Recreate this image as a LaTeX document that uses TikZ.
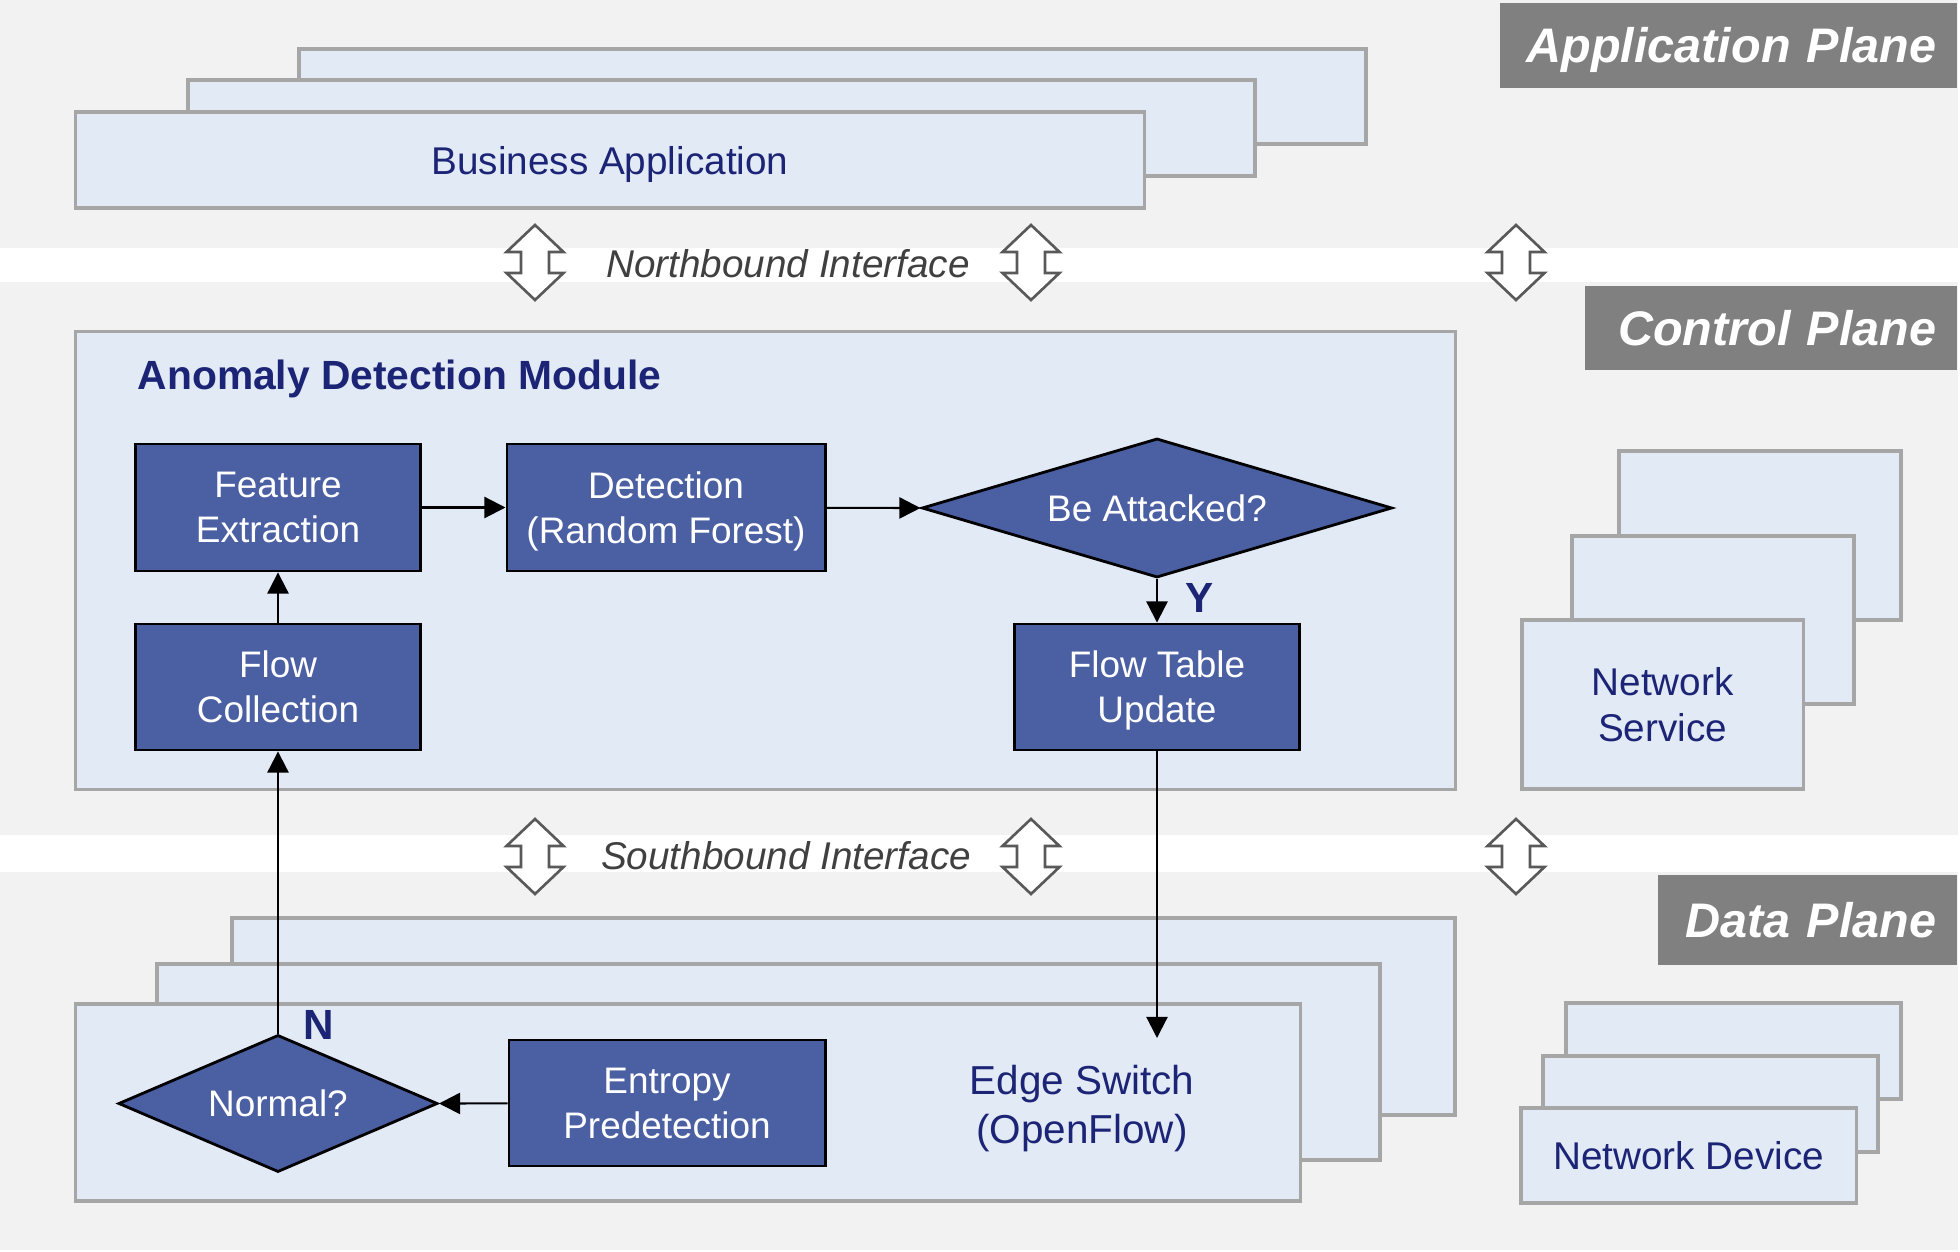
\documentclass[tikz,border=0pt]{standalone}
\usepackage{fontspec}
\setmainfont{Liberation Sans}
\usepackage{tikz}
\usetikzlibrary{shapes.geometric,arrows.meta}

\definecolor{bandgray}{RGB}{242,242,242}
\definecolor{paleblue}{RGB}{226,234,246}
\definecolor{edgegray}{RGB}{166,166,166}
\definecolor{stepblue}{RGB}{75,95,163}
\definecolor{navy}{RGB}{28,36,118}
\definecolor{tabgray}{RGB}{128,128,128}
\definecolor{ifgray}{RGB}{64,64,64}
\definecolor{arrgray}{RGB}{89,89,89}

\tikzset{
  layer/.style={draw=edgegray, fill=paleblue, line width=0.9pt, inner sep=0pt},
  layertext/.style={text=navy, align=center, text depth=0pt, font=\fontsize{11}{13.2}\selectfont},
  stepbox/.style={draw=black, fill=stepblue, line width=0.8pt, text=white, align=center,
    inner sep=0pt, text depth=0pt, font=\fontsize{10.5}{12.8}\selectfont},
  decision/.style={diamond, draw=black, fill=stepblue, line width=0.8pt, text=white,
    inner sep=0pt, font=\fontsize{10.5}{12.8}\selectfont},
  planetag/.style={fill=tabgray, text=white, inner xsep=0.21cm, inner ysep=0pt,
    anchor=north east, align=right, text depth=0pt,
    font=\fontsize{13.8}{16}\selectfont\bfseries\itshape},
  iface/.style={text=ifgray, font=\fontsize{11}{13}\selectfont\itshape},
  answer/.style={text=navy, inner sep=0pt, font=\fontsize{12}{14}\selectfont\bfseries},
  flow/.style={-{Triangle[length=6pt,width=6pt]}, line width=0.6pt},
  updown/.pic={
    \draw[arrgray, fill=white, line width=0.75pt]
      (0,-37.5) -- (28.5,-10.5) -- (14,-10.5) -- (14,10.5) -- (28.5,10.5) -- (0,37.5)
      -- (-28.5,10.5) -- (-14,10.5) -- (-14,-10.5) -- (-28.5,-10.5) -- cycle;
  }
}

\begin{document}
\begin{tikzpicture}[x=0.01cm, y=-0.01cm]
\useasboundingbox (0,0) rectangle (1960,1252);

% the three planes
\fill[bandgray] (0,0) rectangle (1958,248);
\fill[bandgray] (0,282) rectangle (1958,835);
\fill[bandgray] (0,872) rectangle (1958,1250);

\node[planetag, text width=4.15cm, minimum height=0.85cm] (apptag) at (1958,2) {Application Plane};
\node[planetag, text width=3.30cm, minimum height=0.84cm] (ctrltag) at (1958,285) {Control Plane};
\node[planetag, text width=2.57cm, minimum height=0.90cm] (datatag) at (1958,874) {Data Plane};

% application plane
\draw[layer] (299,49) rectangle (1366,144);
\draw[layer] (188,80) rectangle (1255,176);
\node[layer, layertext, minimum width=10.68cm, minimum height=0.96cm] (bizapp) at (610,160) {Business Application};

% interfaces
\foreach \ax in {535,1031,1516} {
  \pic at (\ax,262.5) {updown};
  \pic at (\ax,856.5) {updown};
}
\node[iface] (north) at (788,264) {Northbound Interface};
\node[iface] (south) at (786,856) {Southbound Interface};

% control plane
\node[layer, minimum width=13.79cm, minimum height=4.57cm] (adm) at (765.5,560.5) {};
\node[anchor=west, text=navy, inner sep=0pt, font=\fontsize{11.6}{14}\selectfont\bfseries]
  (admtitle) at (137,379) {Anomaly Detection Module};

\node[stepbox, minimum width=2.85cm, minimum height=1.27cm] (feat) at (278,507.5) {Feature\\Extraction};
\node[stepbox, minimum width=3.18cm, minimum height=1.27cm] (detect) at (666,507.5) {Detection\\(Random Forest)};
\node[decision, aspect=3.4, minimum width=4.7cm, minimum height=1.39cm] (attacked) at (1157,508) {Be Attacked?};
\node[stepbox, minimum width=2.85cm, minimum height=1.26cm] (update) at (1157,687) {Flow Table\\Update};
\node[stepbox, minimum width=2.85cm, minimum height=1.26cm] (collect) at (278,687) {Flow\\Collection};
\node[answer] (yes) at (1200,598) {Y};

\draw[flow] (feat) -- (detect);
\draw[flow] (detect) -- (attacked.west);
\draw[flow] (attacked.south) -- (update.north);
\draw[flow] (collect) -- (feat);

\draw[layer] (1619,451) rectangle (1901,620);
\draw[layer] (1572,536) rectangle (1854,704);
\node[layer, layertext, minimum width=2.81cm, minimum height=1.69cm] (netsvc) at (1662.5,704.5) {Network\\Service};

% data plane
\draw[layer] (232,918) rectangle (1455,1115);
\draw[layer] (157,964) rectangle (1380,1160);
\node[layer, minimum width=12.24cm, minimum height=1.97cm] (edgesw) at (688,1102.5) {};
\node[text=navy, align=center, text depth=0pt, font=\fontsize{11.5}{14}\selectfont] (edgelabel) at (1082,1104) {Edge Switch\\(OpenFlow)};

\node[stepbox, minimum width=3.16cm, minimum height=1.26cm] (entropy) at (667,1103) {Entropy\\Predetection};
\node[decision, aspect=2.3, minimum width=3.19cm, minimum height=1.37cm] (normal) at (278,1103.5) {Normal?};
\node[answer] (no) at (319,1025) {N};
\coordinate (swin) at (1157,1038);

\draw[flow] (entropy) -- (normal.east);
\draw[flow] (normal.north) -- (collect.south);
\draw[flow] (update.south) -- (swin);

\draw[layer] (1566,1003) rectangle (1901,1099);
\draw[layer] (1543,1056) rectangle (1878,1152);
\node[layer, layertext, minimum width=3.35cm, minimum height=0.95cm] (netdev) at (1688.5,1155.5) {Network Device};
\end{tikzpicture}
\end{document}
